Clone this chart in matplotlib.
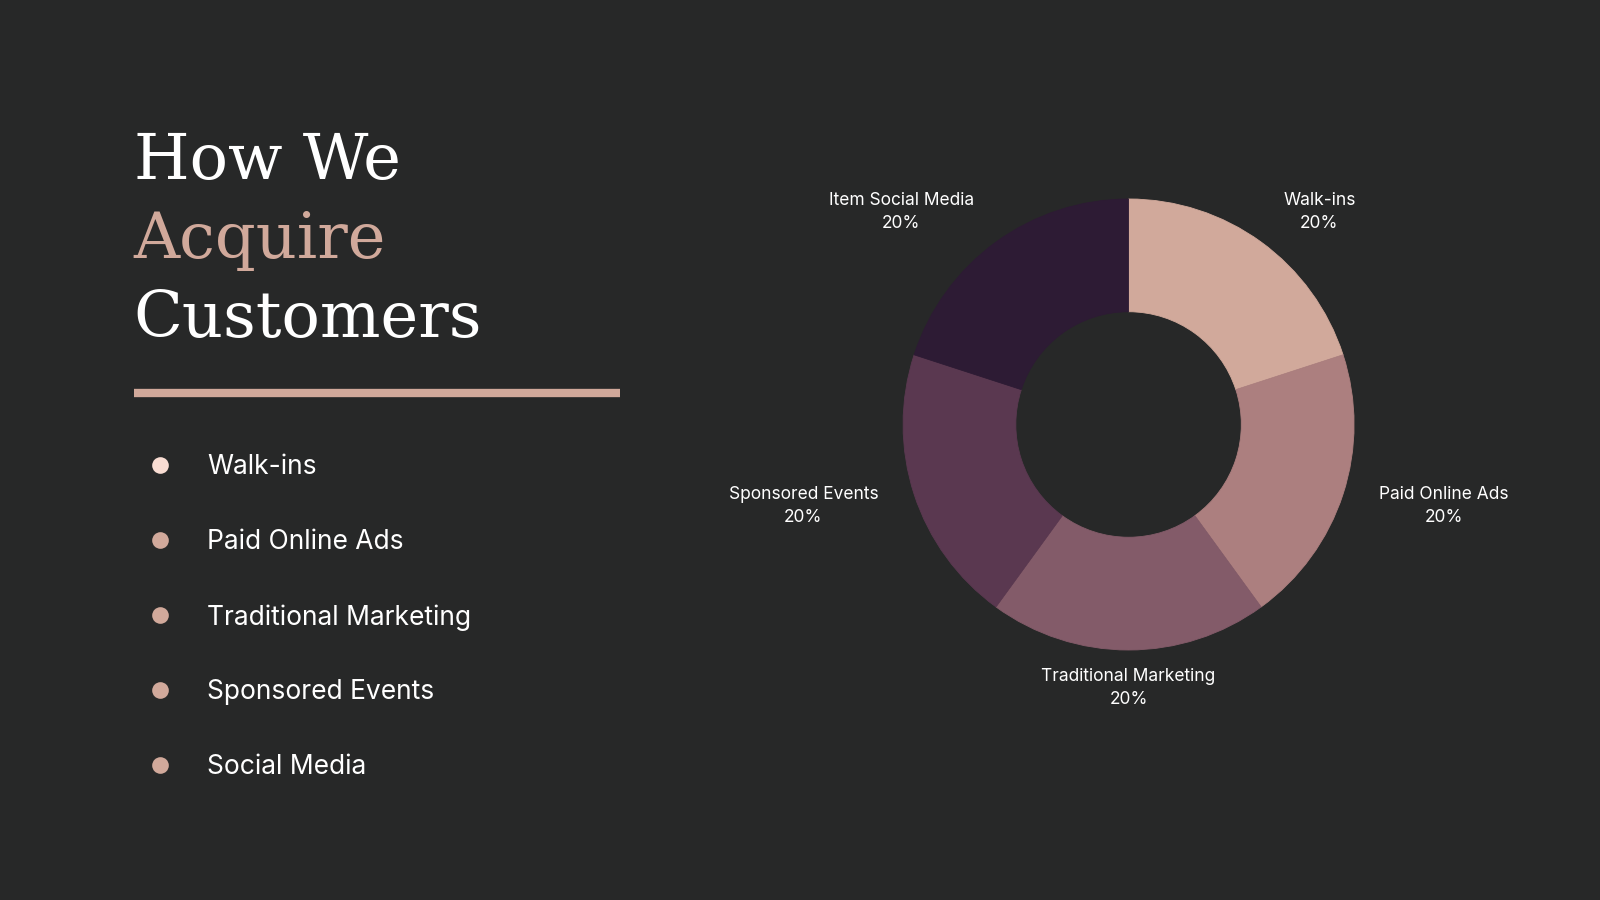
import matplotlib
matplotlib.use("Agg")
import matplotlib.pyplot as plt

# data
channels = ["Walk-ins", "Paid Online Ads", "Traditional Marketing",
            "Sponsored Events", "Item Social Media"]
shares = [20, 20, 20, 20, 20]
bullets = ["Walk-ins", "Paid Online Ads", "Traditional Marketing",
           "Sponsored Events", "Social Media"]
wedge_colors = ["#D1A99B", "#AC7F7F", "#835B69", "#5A3850", "#2D1B34"]
bg = "#272828"

W, H = 1568.0, 882.0  # reference pixel grid


def fx(px):
    return px / W


def fy(py):
    return 1 - py / H


fig = plt.figure(figsize=(16, 9), dpi=100, facecolor=bg)

# title
title_font = dict(family="DejaVu Serif", fontsize=46, va="baseline", ha="left")
fig.text(fx(131), fy(175), "How We", color="white", **title_font)
fig.text(fx(131), fy(253), "Acquire", color="#D1A99B", **title_font)
fig.text(fx(131), fy(330), "Customers", color="white", **title_font)

# rule under the title
fig.add_artist(plt.Line2D([fx(131), fx(608)], [fy(385), fy(385)],
                          color="#D1A99B", linewidth=6, solid_capstyle="butt"))

# bullet list
for i, b in enumerate(bullets):
    y = 456 + i * 73.5
    dot = "#F9DDD3" if i == 0 else "#D1A99B"
    fig.add_artist(plt.Line2D([fx(157)], [fy(y)], marker="o", markersize=12,
                              markerfacecolor=dot, markeredgewidth=0,
                              linestyle="none"))
    fig.text(fx(203), fy(y + 2), b, color="white", fontsize=19, family="Inter",
             va="center", ha="left")

# donut
cx, cy, r_px = 1106, 416, 221
r_fig = r_px * 1600 / W  # outer radius in output pixels
lim = 1.8
aw = 2 * lim * r_fig / 1600
ah = 2 * lim * r_fig / 900
ax = fig.add_axes([fx(cx) - aw / 2, fy(cy) - ah / 2, aw, ah])
ax.set_facecolor(bg)
labels = [f"{c}\n{s}%" for c, s in zip(channels, shares)]
wedges, texts = ax.pie(shares, colors=wedge_colors, startangle=90,
                       counterclock=False, labels=labels, labeldistance=1.167,
                       wedgeprops=dict(width=0.5, linewidth=0.6),
                       textprops=dict(color="white", fontsize=12.5,
                                      family="Inter", linespacing=1.45))
for w in wedges:
    w.set_edgecolor(w.get_facecolor())
for t in texts:
    x, _ = t.get_position()
    t.set_multialignment("center")
    t.set_va("center")
    if abs(x) < 1e-6:
        t.set_ha("center")
    elif x > 0:
        t.set_ha("left")
    else:
        t.set_ha("right")
ax.set_xlim(-lim, lim)
ax.set_ylim(-lim, lim)
ax.set_aspect("equal")
ax.axis("off")

fig.savefig("out.png", dpi=100, facecolor=bg)
